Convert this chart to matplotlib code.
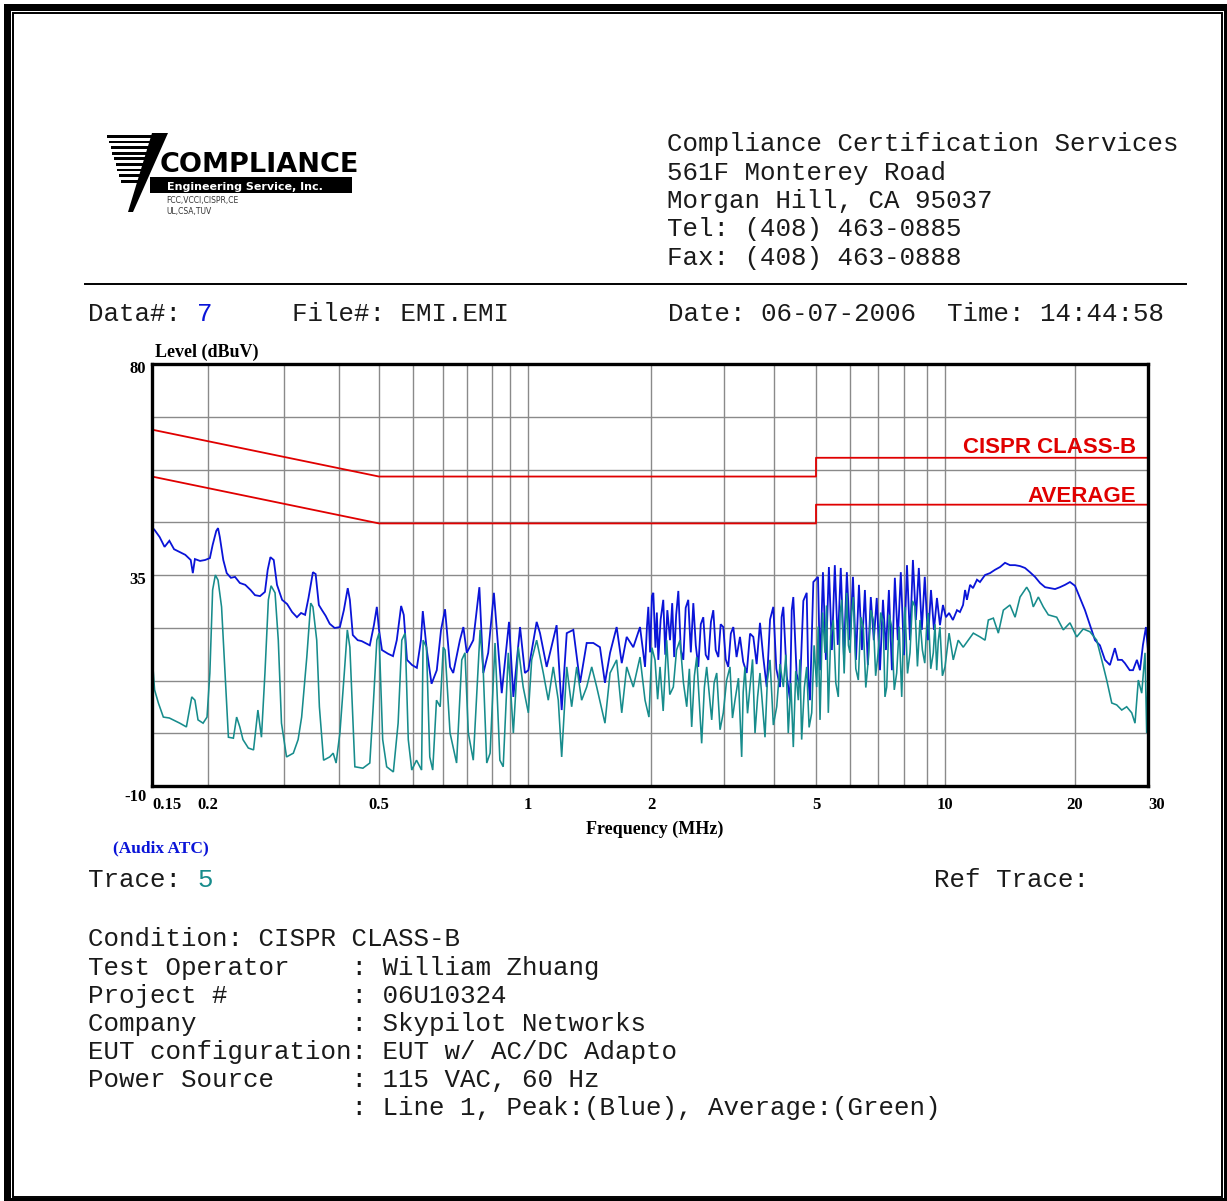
import numpy as np
import matplotlib
matplotlib.use("Agg")
import matplotlib.pyplot as plt
from matplotlib.patches import Rectangle, Polygon
from matplotlib.ticker import NullLocator
from matplotlib.transforms import ScaledTranslation

# ---------------- data ----------------
# frequency (MHz), level (dBuV) -- peak detector trace (blue)
peak_trace = [
    (0.150, 45.2), (0.152, 44.6), (0.156, 43.1), (0.160, 41.0), (0.164, 42.3), (0.168, 40.5),
    (0.173, 39.9), (0.178, 39.3), (0.183, 38.2), (0.185, 35.4), (0.187, 38.4), (0.192, 38.0),
    (0.197, 38.2), (0.202, 38.6), (0.205, 41.4), (0.209, 44.4), (0.211, 45.0), (0.213, 43.1),
    (0.217, 38.2), (0.221, 35.4), (0.226, 34.4), (0.231, 34.6), (0.237, 33.3), (0.244, 32.9),
    (0.251, 31.8), (0.257, 30.7), (0.264, 30.5), (0.271, 31.4), (0.275, 36.1), (0.279, 38.8),
    (0.284, 38.2), (0.289, 32.9), (0.297, 29.7), (0.305, 28.8), (0.313, 27.1), (0.321, 26.0),
    (0.328, 26.9), (0.335, 26.5), (0.341, 30.1), (0.349, 35.6), (0.354, 35.2), (0.360, 28.6),
    (0.366, 27.5), (0.373, 26.3), (0.381, 24.6), (0.391, 23.7), (0.402, 23.9), (0.411, 27.5),
    (0.420, 32.2), (0.425, 29.7), (0.432, 22.2), (0.444, 21.1), (0.454, 20.9), (0.463, 20.5),
    (0.475, 20.0), (0.486, 24.3), (0.494, 28.2), (0.500, 23.3), (0.508, 19.0), (0.525, 18.2),
    (0.539, 17.7), (0.550, 21.1), (0.563, 28.4), (0.571, 26.5), (0.581, 16.9), (0.597, 15.8),
    (0.612, 15.2), (0.625, 21.1), (0.631, 27.3), (0.644, 19.0), (0.660, 11.8), (0.678, 14.7),
    (0.693, 23.3), (0.708, 27.7), (0.728, 15.4), (0.741, 14.1), (0.769, 21.1), (0.784, 23.9),
    (0.799, 18.4), (0.824, 21.1), (0.848, 32.4), (0.864, 14.1), (0.884, 18.4), (0.905, 31.2),
    (0.926, 9.8), (0.946, 25.0), (0.958, 9.0), (0.977, 23.9), (0.991, 14.1), (1.002, 14.7),
    (1.050, 25.0), (1.070, 22.6), (1.111, 15.4), (1.175, 24.3), (1.209, 6.2), (1.244, 22.6),
    (1.291, 23.3), (1.341, 12.0), (1.392, 20.5), (1.445, 20.5), (1.500, 19.6), (1.543, 12.0),
    (1.588, 18.4), (1.648, 23.9), (1.696, 16.2), (1.744, 21.8), (1.810, 19.6), (1.880, 23.9),
    (1.934, 15.4), (1.955, 24.0), (1.970, 28.2), (1.990, 18.5), (2.010, 30.5), (2.026, 31.2),
    (2.050, 19.5), (2.066, 27.0), (2.083, 16.9), (2.110, 25.5), (2.141, 29.7), (2.165, 18.0),
    (2.190, 27.5), (2.223, 21.1), (2.250, 29.0), (2.275, 17.5), (2.300, 26.5), (2.328, 31.6),
    (2.360, 19.0), (2.393, 16.9), (2.425, 28.0), (2.460, 29.7), (2.495, 18.5), (2.530, 29.0),
    (2.565, 20.0), (2.601, 15.4), (2.637, 24.5), (2.674, 26.0), (2.710, 18.0), (2.750, 16.9),
    (2.790, 25.0), (2.827, 27.5), (2.865, 19.0), (2.907, 17.5), (2.945, 24.5), (2.988, 23.9),
    (3.030, 17.0), (3.075, 15.4), (3.120, 22.5), (3.165, 23.9), (3.225, 17.5), (3.289, 21.8),
    (3.350, 16.5), (3.419, 14.1), (3.485, 22.5), (3.551, 21.8), (3.620, 16.0), (3.690, 24.8),
    (3.760, 17.5), (3.836, 11.1), (3.910, 25.5), (3.984, 28.2), (4.050, 15.0), (4.130, 11.1),
    (4.165, 26.0), (4.203, 28.2), (4.280, 13.5), (4.355, 8.3), (4.395, 27.5), (4.432, 30.3),
    (4.510, 14.0), (4.592, 11.1), (4.675, 29.5), (4.759, 31.2), (4.800, 13.0), (4.843, 8.3),
    (4.930, 33.5), (5.054, 34.6), (5.109, 14.7), (5.190, 35.6), (5.273, 16.9), (5.358, 36.7),
    (5.445, 19.0), (5.531, 37.1), (5.620, 20.1), (5.710, 36.5), (5.806, 17.9), (5.900, 35.6),
    (6.000, 21.1), (6.099, 34.6), (6.201, 16.9), (6.303, 32.9), (6.407, 19.0), (6.513, 31.8),
    (6.619, 15.8), (6.728, 30.3), (6.840, 21.1), (6.952, 30.1), (7.072, 14.7), (7.181, 29.7),
    (7.292, 19.0), (7.403, 31.8), (7.518, 14.7), (7.633, 34.4), (7.750, 21.1), (7.870, 35.6),
    (8.000, 17.9), (8.123, 37.1), (8.249, 21.1), (8.374, 38.2), (8.502, 25.4), (8.631, 36.5),
    (8.764, 23.3), (8.898, 34.6), (9.053, 21.1), (9.212, 31.8), (9.375, 23.3), (9.540, 30.1),
    (9.708, 24.3), (9.880, 28.6), (10.05, 26.0), (10.22, 26.9), (10.43, 25.4), (10.66, 27.5),
    (10.83, 27.1), (11.01, 28.6), (11.13, 31.8), (11.24, 29.7), (11.43, 32.9), (11.61, 32.2),
    (11.86, 34.0), (12.05, 33.5), (12.38, 35.0), (12.71, 35.4), (13.05, 36.1), (13.41, 36.7),
    (13.77, 37.6), (14.14, 37.1), (14.53, 37.1), (14.92, 36.9), (15.32, 36.5), (15.73, 35.6),
    (16.16, 34.6), (16.60, 33.3), (17.05, 32.4), (17.50, 32.2), (17.98, 32.0), (18.46, 32.4),
    (18.96, 32.9), (19.47, 33.5), (20.00, 32.7), (20.56, 30.1), (21.14, 27.5), (21.73, 24.3),
    (22.35, 21.1), (22.97, 20.0), (23.62, 16.9), (24.28, 15.8), (24.96, 19.4), (25.38, 16.9),
    (25.95, 16.9), (26.38, 16.2), (27.10, 14.7), (27.60, 14.7), (28.21, 16.9), (28.69, 14.7),
    (29.17, 20.1), (29.66, 23.9), (30.00, 19.0),
]

# frequency (MHz), level (dBuV) -- average detector trace (green)
avg_trace = [
    (0.151, 14.3), (0.152, 10.5), (0.155, 7.7), (0.159, 4.7), (0.164, 4.5), (0.173, 3.4),
    (0.179, 2.6), (0.184, 9.0), (0.187, 8.3), (0.190, 4.1), (0.195, 3.4), (0.199, 4.7),
    (0.202, 14.1), (0.205, 31.8), (0.208, 35.0), (0.211, 33.9), (0.215, 28.2), (0.219, 14.1),
    (0.223, 0.4), (0.229, 0.2), (0.233, 4.7), (0.237, 2.6), (0.241, -0.1), (0.248, -1.9),
    (0.255, -2.3), (0.261, 6.2), (0.266, 0.4), (0.271, 14.1), (0.276, 29.7), (0.280, 32.7),
    (0.286, 31.2), (0.291, 21.1), (0.296, 3.4), (0.304, -3.8), (0.315, -3.0), (0.323, -0.1),
    (0.329, 4.7), (0.338, 17.5), (0.345, 29.0), (0.349, 28.2), (0.356, 21.1), (0.361, 6.9),
    (0.369, -4.5), (0.381, -3.8), (0.388, -3.0), (0.394, -5.1), (0.402, 1.3), (0.412, 14.1),
    (0.419, 23.3), (0.425, 19.6), (0.431, 6.9), (0.437, -5.9), (0.457, -6.2), (0.475, -5.1),
    (0.484, 6.9), (0.494, 21.1), (0.500, 22.6), (0.510, -0.1), (0.521, -5.9), (0.540, -7.0),
    (0.554, 3.4), (0.565, 21.1), (0.575, 22.6), (0.585, -0.1), (0.596, -6.6), (0.611, -4.5),
    (0.627, -6.6), (0.632, 21.1), (0.643, 19.6), (0.654, -3.8), (0.664, -6.6), (0.677, 8.3),
    (0.690, 6.9), (0.701, 19.6), (0.708, 19.0), (0.728, 1.3), (0.755, -5.1), (0.777, 16.9),
    (0.791, 18.4), (0.805, 1.3), (0.824, -4.5), (0.851, 23.3), (0.864, 14.1), (0.878, -5.1),
    (0.892, -3.0), (0.908, 20.5), (0.921, -4.5), (0.930, -5.9), (0.944, 18.4), (0.958, 1.3),
    (0.972, 19.6), (0.986, 11.1), (1.002, 5.6), (1.021, 16.9), (1.050, 21.1), (1.090, 14.1),
    (1.121, 8.3), (1.153, 15.4), (1.186, 8.3), (1.209, -3.8), (1.244, 15.4), (1.279, 6.9),
    (1.316, 15.4), (1.353, 8.3), (1.392, 11.1), (1.432, 15.4), (1.473, 11.1), (1.543, 3.4),
    (1.588, 14.1), (1.648, 16.9), (1.696, 5.6), (1.744, 15.4), (1.810, 11.1), (1.880, 17.5),
    (1.934, 8.3), (1.977, 4.7), (2.010, 19.5), (2.045, 16.9), (2.075, 8.5), (2.103, 15.4),
    (2.140, 6.0), (2.182, 21.1), (2.220, 9.5), (2.264, 11.1), (2.305, 19.0), (2.349, 21.1),
    (2.395, 12.0), (2.439, 6.9), (2.475, 15.0), (2.507, 2.6), (2.545, 13.5), (2.578, 17.5),
    (2.615, 8.0), (2.650, -0.9), (2.690, 11.0), (2.725, 15.4), (2.765, 9.5), (2.802, 4.1),
    (2.840, 12.0), (2.881, 14.1), (2.935, 2.0), (2.988, 5.6), (3.045, 12.5), (3.105, 15.4),
    (3.150, 4.5), (3.196, 8.3), (3.260, 13.0), (3.321, -3.8), (3.350, 10.0), (3.385, 15.4),
    (3.435, 5.5), (3.484, 11.1), (3.535, 17.0), (3.586, 1.3), (3.640, 9.0), (3.690, 14.1),
    (3.745, 7.0), (3.798, 0.4), (3.850, 12.5), (3.909, 16.9), (3.985, 3.0), (4.058, 6.9),
    (4.130, 16.0), (4.203, 11.1), (4.260, 18.0), (4.315, 1.3), (4.375, 12.0), (4.432, -1.7),
    (4.490, 14.5), (4.552, 8.3), (4.590, 17.0), (4.633, -0.1), (4.700, 11.0), (4.759, 15.4),
    (4.820, 2.5), (4.887, 5.6), (4.950, 20.0), (5.019, 11.1), (5.060, 24.0), (5.109, 4.1),
    (5.180, 27.0), (5.247, 18.4), (5.290, 28.5), (5.341, 5.6), (5.410, 22.0), (5.486, 25.4),
    (5.560, 12.0), (5.635, 9.0), (5.690, 27.0), (5.739, 29.7), (5.815, 14.0), (5.895, 31.2),
    (5.950, 20.0), (6.000, 18.4), (6.055, 27.0), (6.110, 30.3), (6.195, 15.0), (6.281, 12.6),
    (6.370, 26.0), (6.456, 23.9), (6.545, 11.0), (6.636, 16.9), (6.730, 27.5), (6.822, 25.4),
    (6.910, 13.5), (7.004, 18.4), (7.100, 27.0), (7.193, 24.8), (7.255, 9.0), (7.320, 11.1),
    (7.415, 26.5), (7.510, 23.9), (7.610, 10.5), (7.705, 14.1), (7.805, 24.0), (7.907, 9.0),
    (7.975, 22.0), (8.041, 28.2), (8.145, 14.0), (8.249, 18.4), (8.355, 29.5), (8.463, 28.2),
    (8.570, 15.5), (8.683, 25.4), (8.790, 19.0), (8.898, 16.2), (8.985, 24.0), (9.069, 26.9),
    (9.200, 15.0), (9.338, 18.4), (9.430, 24.5), (9.526, 14.7), (9.615, 21.0), (9.708, 23.9),
    (9.850, 13.5), (10.00, 15.4), (10.22, 22.6), (10.45, 16.9), (10.73, 21.1), (11.02, 19.6),
    (11.32, 21.1), (11.63, 22.6), (12.05, 21.8), (12.38, 21.1), (12.60, 25.4), (12.94, 25.8),
    (13.29, 22.6), (13.65, 27.5), (14.14, 28.6), (14.53, 26.0), (14.92, 30.3), (15.46, 32.4),
    (15.73, 31.2), (16.01, 28.2), (16.45, 30.3), (16.89, 28.2), (17.35, 26.5), (18.14, 26.0),
    (18.79, 23.3), (19.47, 24.8), (20.19, 21.8), (20.94, 23.5), (21.73, 22.9), (22.56, 21.1),
    (23.20, 16.9), (23.85, 12.6), (24.53, 7.7), (25.21, 7.3), (25.93, 6.2), (26.65, 6.9),
    (27.41, 5.6), (27.91, 3.4), (28.43, 12.6), (28.97, 9.8), (29.51, 18.4), (29.78, 1.3),
    (30.00, 12.6),
]

# CISPR 22 class B limits
limit_freq = [0.15, 0.5, 5.0, 5.0, 30.0]
qp_limit = [66, 56, 56, 60, 60]
avg_limit = [56, 46, 46, 50, 50]

# axis ticks / grid
grid_freqs = [0.15, 0.2, 0.3, 0.4, 0.5, 0.6, 0.7, 0.8, 0.9, 0.95, 1, 2, 3, 4, 5, 6, 7, 8, 9, 10, 20, 30]
x_labels = {0.15: "0.15", 0.2: "0.2", 0.5: "0.5", 1: "1", 2: "2", 5: "5", 10: "10", 20: "20", 30: "30"}
grid_levels = [-10, 1.25, 12.5, 23.75, 35, 46.25, 57.5, 68.75, 80]
y_labels = {-10: "-10", 35: "35", 80: "80"}

header_lines = ["Compliance Certification Services", "561F Monterey Road",
                "Morgan Hill, CA 95037", "Tel: (408) 463-0885", "Fax: (408) 463-0888"]
info_lines = ["Condition: CISPR CLASS-B",
              "Test Operator    : William Zhuang",
              "Project #        : 06U10324",
              "Company          : Skypilot Networks",
              "EUT configuration: EUT w/ AC/DC Adapto",
              "Power Source     : 115 VAC, 60 Hz",
              "                 : Line 1, Peak:(Blue), Average:(Green)"]

# ---------------- axis scale (analyser's segmented log axis) ----------------
ANCHOR_F = [0.15, 0.2, 0.3, 0.4, 0.5, 0.6, 0.7, 0.8, 0.9, 1.0, 2, 3, 4, 5, 6, 7, 8, 9, 10, 20, 30]
ANCHOR_P = [152, 208, 284, 339, 379, 413, 443, 467, 492, 528, 651, 724, 774, 816, 850, 878, 904, 927, 945, 1075, 1148]
LOG_F = np.log10(ANCHOR_F)


def fwd(f):
    f = np.asarray(f, dtype=float)
    return np.interp(np.log10(np.clip(f, 1e-4, None)), LOG_F, ANCHOR_P)


def inv(p):
    p = np.asarray(p, dtype=float)
    return 10 ** np.interp(p, ANCHOR_P, LOG_F)


# ---------------- figure ----------------
W, H = 1227, 1201
fig = plt.figure(figsize=(W / 100, H / 100), dpi=100)
fig.patch.set_facecolor("white")

BLUE = "#0a14d8"
TEAL = "#178c8c"
RED = "#e00000"
GRID = "#8a8a8a"
MONO = "Liberation Mono"
SERIF = "Liberation Serif"

ax = fig.add_axes([152 / W, 1 - 786 / H, (1148 - 152) / W, (786 - 364) / H])
ax.set_facecolor("none")
ax.set_xscale("function", functions=(fwd, inv))
ax.set_xlim(0.15, 30)
ax.set_ylim(-10, 80)

pf, pl = zip(*peak_trace)
af, al = zip(*avg_trace)
ax.plot(pf, pl, color=BLUE, lw=1.3, zorder=3, solid_joinstyle="miter")
ax.plot(af, al, color=TEAL, lw=1.15, zorder=4, solid_joinstyle="miter")
ax.plot(limit_freq, qp_limit, color=RED, lw=1.3, zorder=5)
ax.plot(limit_freq, avg_limit, color=RED, lw=1.3, zorder=5)

ax.set_xticks(grid_freqs)
ax.set_xticklabels([x_labels.get(f, "") for f in grid_freqs])
ax.xaxis.set_minor_locator(NullLocator())
ax.set_yticks(grid_levels)
ax.set_yticklabels([y_labels.get(v, "") for v in grid_levels])
ax.yaxis.set_minor_locator(NullLocator())
ax.tick_params(axis="both", length=0, labelsize=12)
ax.tick_params(axis="x", pad=8)
ax.tick_params(axis="y", pad=4)
for lbl in ax.get_xticklabels() + ax.get_yticklabels():
    lbl.set_fontfamily(SERIF)
    lbl.set_fontweight("bold")
xt = ax.xaxis.get_major_ticks()
xt[0].label1.set_horizontalalignment("left")
xt[-1].label1.set_horizontalalignment("left")
for t, v in zip(ax.yaxis.get_major_ticks(), grid_levels):
    dy = -9 if v == -10 else -3
    t.label1.set_transform(t.label1.get_transform() + ScaledTranslation(0, dy / 100, fig.dpi_scale_trans))

ax.grid(True, color=GRID, lw=1.0, zorder=1)
ax.set_axisbelow(True)
for s in ax.spines.values():
    s.set_linewidth(2.4)
    s.set_color("black")
    s.set_zorder(6)

# ---------------- page overlay (pixel coordinates) ----------------
page = fig.add_axes([0, 0, 1, 1])
page.set_xlim(0, W)
page.set_ylim(H, 0)
page.axis("off")
page.set_zorder(10)

# border
for (x, y, w, h) in [(4, 4, 7, 1197), (4, 4, 1223, 7), (1224, 4, 3, 1197), (4, 1198, 1223, 3)]:
    page.add_patch(Rectangle((x, y), w, h, facecolor="black", edgecolor="none"))
page.add_patch(Rectangle((13, 13), 1209, 1184, facecolor="none", edgecolor="black", lw=1.4))

# logo
for i in range(9):
    y = 135 + i * 5.6
    xl = 107 + (y - 134) / 78 * 23
    xr = 156 - (y - 134) / 78 * 26
    page.add_patch(Rectangle((xl, y), xr - xl, 2.8, facecolor="black", edgecolor="none"))
page.add_patch(Polygon([(152, 133), (168, 133), (133, 212), (128, 212)], closed=True,
                       facecolor="black", edgecolor="none"))
page.add_patch(Rectangle((150, 177), 202, 16, facecolor="black", edgecolor="none"))
page.text(160, 172, "COMPLIANCE", fontsize=19.5, fontweight="bold", family="DejaVu Sans",
          color="black", va="baseline", ha="left")
page.text(167, 190, "Engineering Service, Inc.", fontsize=8, fontweight="bold",
          family="DejaVu Sans", color="white", va="baseline", ha="left")
page.text(166, 203, "FCC,VCCI,CISPR,CE", fontsize=5.5, family="DejaVu Sans", color="#333333",
          va="baseline", ha="left")
page.text(166, 214, "UL,CSA,TUV", fontsize=5.5, family="DejaVu Sans", color="#333333",
          va="baseline", ha="left")

MS = 18.65
TXT = "#1a1a1a"
for i, s in enumerate(header_lines):
    page.text(667, 151.5 + i * 28.3, s, fontsize=MS, family=MONO, color=TXT, va="baseline", ha="left")
page.plot([85, 1186], [284, 284], color="black", lw=1.4)

page.text(88, 321, "Data#: ", fontsize=MS, family=MONO, color=TXT, va="baseline", ha="left")
page.text(197, 321, "7", fontsize=MS, family=MONO, color=BLUE, va="baseline", ha="left")
page.text(292, 321, "File#: EMI.EMI", fontsize=MS, family=MONO, color=TXT, va="baseline", ha="left")
page.text(668, 321, "Date: 06-07-2006  Time: 14:44:58", fontsize=MS, family=MONO, color=TXT,
          va="baseline", ha="left")

page.text(155, 357, "Level (dBuV)", fontsize=13, family=SERIF, fontweight="bold",
          va="baseline", ha="left")
page.text(655, 834, "Frequency (MHz)", fontsize=13, family=SERIF, fontweight="bold",
          va="baseline", ha="center")
page.text(113, 852, "(Audix ATC)", fontsize=12.5, family=SERIF, fontweight="bold", color=BLUE,
          va="baseline", ha="left")

page.text(1136, 453, "CISPR CLASS-B", fontsize=16, family="Liberation Sans", fontweight="bold",
          color=RED, va="baseline", ha="right")
page.text(1136, 502, "AVERAGE", fontsize=16, family="Liberation Sans", fontweight="bold",
          color=RED, va="baseline", ha="right")

page.text(88, 887, "Trace: ", fontsize=MS, family=MONO, color=TXT, va="baseline", ha="left")
page.text(197, 887, "5", fontsize=MS, family=MONO, color=TEAL, va="baseline", ha="left")
page.text(934, 887, "Ref Trace:", fontsize=MS, family=MONO, color=TXT, va="baseline", ha="left")

for i, s in enumerate(info_lines):
    page.text(88, 946.5 + i * 28, s, fontsize=MS, family=MONO, color=TXT, va="baseline", ha="left")

fig.savefig("out.png", dpi=100, facecolor="white")
